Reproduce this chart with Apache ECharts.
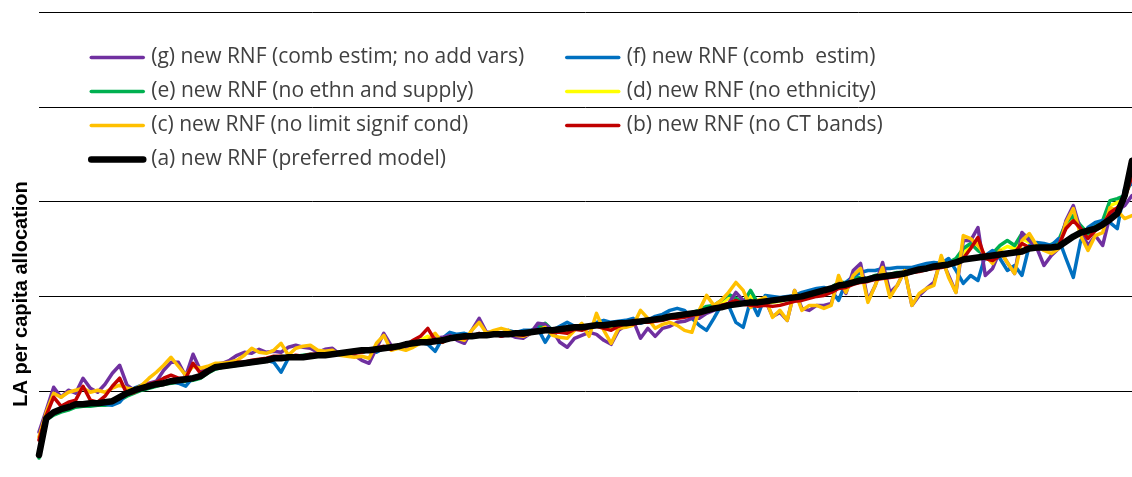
<!DOCTYPE html>
<html>
<head>
<meta charset="utf-8">
<script src="https://cdn.jsdelivr.net/npm/echarts@6/dist/echarts.min.js"></script>
<style>
html,body{margin:0;padding:0;background:#fff;}
#chart{width:1132px;height:477px;}
</style>
</head>
<body>
<div id="chart"></div>
<script>
// Local authorities, ranked by the preferred-model allocation (150 LAs)
const categories = Array.from({length: 150}, (_, i) => 'LA ' + (i + 1));

// Values (arbitrary allocation units; gridlines every 95)
const seriesA = [31,68,74,77,79,82,82,83,83,84,
 85,89,93,96,98,100,102,103,105,106,
 107,108,110,115,119,120,121,122,123,124,
 125,126,128,128,129,129,129,130,131,131,
 132,133,134,135,136,136,137,138,139,140,
 142,143,144,144,145,146,148,149,150,150,
 151,151,152,152,152,153,153,154,155,156,
 156,157,158,159,159,160,161,161,162,163,
 163,164,165,166,167,168,170,171,172,173,
 174,176,178,179,181,182,183,184,184,185,
 186,187,188,189,190,192,194,196,198,201,
 202,204,206,207,209,210,211,212,213,215,
 217,218,220,221,222,224,227,228,229,230,
 231,232,233,234,235,238,239,239,239,240,
 245,250,254,256,258,262,267,273,291,326];

const seriesB = [46,71,89,80,84,86,100,86,84,90,
 100,108,92,94,98,102,104,108,111,108,
 108,123,113,116,120,121,121,124,124,126,
 127,128,130,130,129,131,130,132,132,130,
 132,134,134,133,134,136,138,140,137,140,
 141,146,150,158,146,144,148,150,148,150,
 153,150,153,150,153,152,151,153,156,156,
 154,154,153,157,156,159,160,158,156,160,
 163,162,164,164,165,166,168,168,169,171,
 172,175,177,181,183,186,182,181,180,181,
 180,181,183,185,186,188,190,191,194,198,
 199,202,204,205,207,208,209,210,212,214,
 215,217,218,219,221,224,228,238,249,228,
 226,231,232,234,243,239,238,238,238,241,
 258,266,258,248,256,261,274,279,288,311];

const seriesC = [49,74,93,89,94,96,98,94,96,94,
 98,101,98,97,101,108,114,121,129,120,
 111,120,118,120,123,123,124,126,131,138,
 134,133,136,143,131,138,140,141,136,135,
 136,131,130,129,130,128,143,151,136,138,
 136,139,143,146,153,144,149,148,146,156,
 164,153,156,158,156,151,150,153,156,159,
 151,149,148,156,163,150,173,156,143,158,
 159,161,176,168,158,162,164,161,156,154,
 176,191,181,186,194,204,196,179,186,189,
 169,176,166,196,176,181,181,178,181,211,
 194,211,218,184,201,219,189,201,216,181,
 193,198,201,231,209,194,251,248,241,231,
 223,236,224,213,246,253,241,236,233,238,
 264,278,251,236,251,254,279,276,268,271];

const seriesD = [30,67,72,76,78,80,81,81,82,82,
 83,87,91,94,97,99,101,102,104,105,
 106,107,109,114,118,120,121,122,123,124,
 125,126,128,129,129,130,130,131,131,131,
 132,133,134,134,135,136,137,139,138,140,
 141,143,146,150,145,145,148,150,149,150,
 152,151,153,151,153,152,152,154,157,160,
 155,155,156,158,158,160,161,159,159,162,
 163,163,165,165,167,169,169,170,171,173,
 174,178,179,183,188,187,183,190,182,184,
 184,185,187,189,189,191,193,194,197,202,
 202,206,207,207,209,211,211,212,213,215,
 216,218,220,221,222,226,233,241,243,230,
 230,236,240,238,248,244,240,239,240,244,
 262,269,260,251,258,264,281,284,290,310];

const seriesE = [28,66,71,74,76,79,80,80,81,81,
 82,86,90,93,96,98,100,102,103,104,
 105,106,108,113,117,119,120,121,122,123,
 124,125,128,130,129,130,131,132,130,132,
 131,133,134,135,134,136,137,139,139,140,
 142,143,145,144,146,146,149,150,149,151,
 152,151,153,152,152,153,152,155,159,163,
 156,156,158,159,160,160,162,160,161,163,
 164,164,166,166,168,171,170,172,172,174,
 176,180,181,186,192,188,184,196,183,186,
 186,188,189,190,191,193,195,197,199,204,
 204,209,209,208,211,213,212,214,214,216,
 218,220,222,224,224,228,238,243,236,231,
 233,241,246,241,253,248,242,240,242,246,
 264,271,261,253,260,266,286,288,291,306];

const seriesF = [31,69,74,78,80,82,82,83,82,82,
 81,84,93,98,101,100,104,104,105,103,
 100,109,110,116,120,121,122,122,124,124,
 126,126,124,114,128,130,130,131,132,131,
 133,133,134,136,134,136,134,138,139,139,
 142,143,144,142,135,148,154,152,153,151,
 150,153,154,153,156,154,156,156,158,144,
 156,160,164,160,159,160,164,166,164,165,
 166,168,163,166,170,172,176,178,176,168,
 161,156,168,181,181,164,159,186,171,191,
 190,189,190,191,194,196,198,199,196,186,
 204,210,214,216,216,218,218,219,219,219,
 221,223,224,223,228,216,203,211,206,231,
 236,228,216,221,211,241,244,243,241,248,
 228,209,246,259,264,266,264,258,298,303];

const seriesG = [54,76,99,89,96,93,108,98,94,102,
 113,121,101,96,100,103,105,116,124,124,
 110,132,116,117,122,123,126,131,134,133,
 137,134,135,134,139,141,139,138,134,137,
 138,132,132,131,126,123,138,153,141,138,
 139,141,143,144,148,149,151,146,143,156,
 168,154,154,150,152,149,148,153,163,162,
 156,144,139,148,151,154,152,146,142,156,
 161,166,148,158,150,158,160,164,165,168,
 168,173,176,179,183,194,186,184,181,186,
 170,174,166,196,178,176,181,181,183,206,
 193,216,223,186,201,224,194,201,216,181,
 191,198,204,228,211,194,246,246,259,211,
 218,236,224,213,254,246,239,221,231,238,
 266,281,256,241,251,241,271,276,281,291];

const names = {
  g: '(g) new RNF (comb estim; no add vars)',
  f: '(f) new RNF (comb  estim)',
  e: '(e) new RNF (no ethn and supply)',
  d: '(d) new RNF (no ethnicity)',
  c: '(c) new RNF (no limit signif cond)',
  b: '(b) new RNF (no CT bands)',
  a: '(a) new RNF (preferred model)'
};

const chart = echarts.init(document.getElementById('chart'), null, {renderer: 'canvas'});

function line(name, data, color, width, z) {
  return {
    name: name, type: 'line', data: data, symbol: 'none', z: z,
    lineStyle: {color: color, width: width, join: 'round', cap: 'round'},
    itemStyle: {color: color},
    emphasis: {disabled: true}, silent: true
  };
}

function legendItem(name, width) {
  return {name: name, lineStyle: {width: width}};
}

const legendText = {fontSize: 21, fontFamily: 'Open Sans', color: '#404040', lineHeight: 20, padding: [0, 0, 0, 3]};
const legendBase = {orient: 'vertical', top: 42, itemWidth: 52, itemHeight: 14, itemGap: 13,
  textStyle: legendText, selectedMode: false, itemStyle: {opacity: 0}};

chart.setOption({
  animation: false,
  backgroundColor: '#ffffff',
  grid: {left: 39, right: 0, top: 12, height: 474, outerBoundsMode: 'none', containLabel: false},
  xAxis: {
    type: 'category', data: categories, boundaryGap: false,
    axisLine: {show: false}, axisTick: {show: false}, axisLabel: {show: false}, splitLine: {show: false}
  },
  yAxis: {
    type: 'value', min: 0, max: 475, interval: 95,
    axisLine: {show: false}, axisTick: {show: false}, axisLabel: {show: false},
    splitLine: {show: true, lineStyle: {color: '#000000', width: 1}}
  },
  legend: [
    Object.assign({data: [legendItem(names.g, 3.5), legendItem(names.e, 3.5),
                          legendItem(names.c, 3.5), legendItem(names.a, 6.5)], left: 83}, legendBase),
    Object.assign({data: [legendItem(names.f, 3.5), legendItem(names.d, 3.5),
                          legendItem(names.b, 3.5)], left: 560}, legendBase)
  ],
  graphic: [{
    type: 'text', x: 21, y: 294, rotation: Math.PI / 2,
    style: {text: 'LA per capita allocation', fontSize: 20, fontWeight: 'bold',
            fontFamily: 'Liberation Sans', fill: '#000000', align: 'center', verticalAlign: 'middle'}
  }],
  series: [
    line(names.d, seriesD, '#FFFF00', 3.5, 2),
    line(names.e, seriesE, '#00B050', 3.5, 3),
    line(names.f, seriesF, '#0070C0', 3.5, 4),
    line(names.g, seriesG, '#7030A0', 3.5, 5),
    line(names.c, seriesC, '#FFC000', 3.5, 6),
    line(names.b, seriesB, '#C00000', 3.5, 7),
    line(names.a, seriesA, '#000000', 6.5, 8)
  ]
});
</script>
</body>
</html>
